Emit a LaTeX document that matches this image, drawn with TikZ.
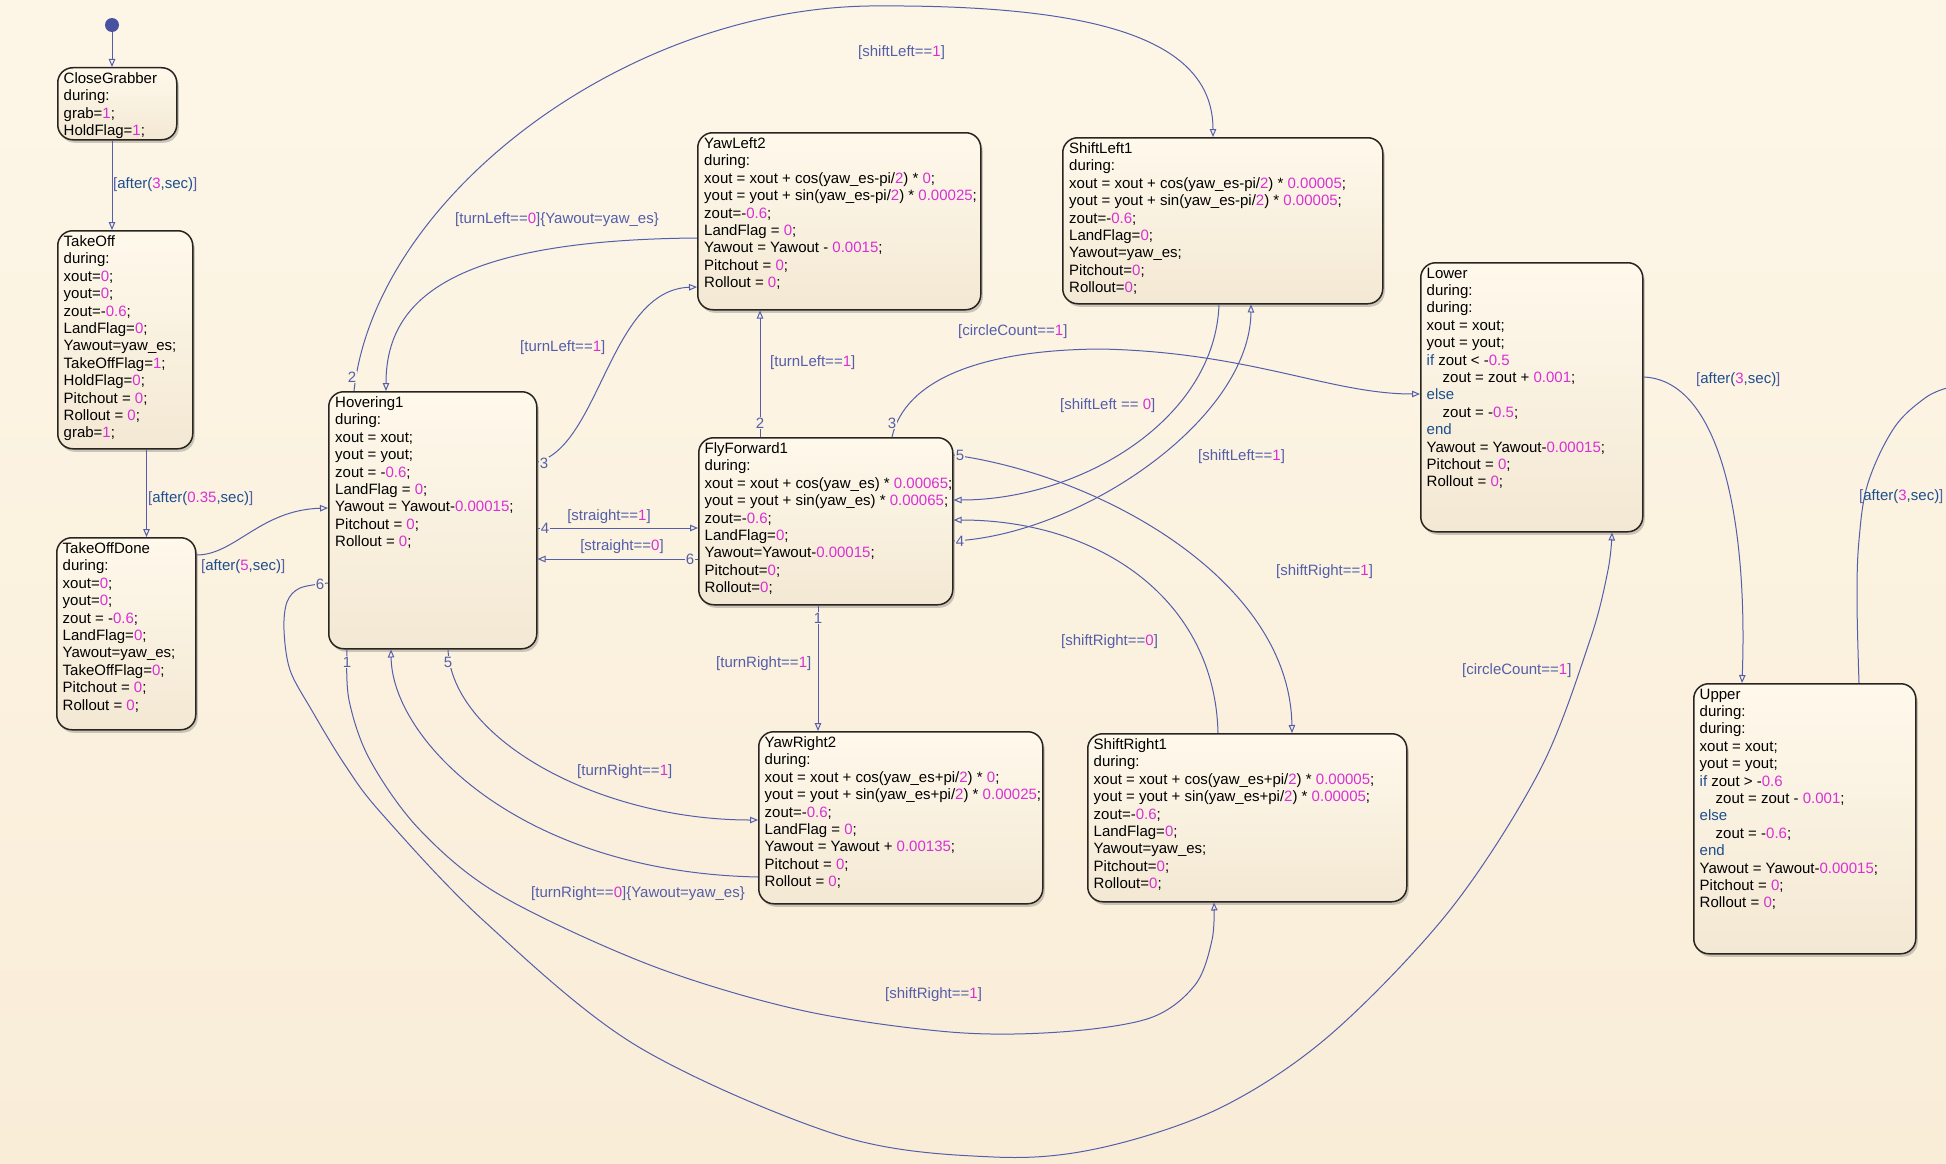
\documentclass[tikz,border=0pt]{standalone}
\usepackage{fontspec}
\setmainfont{Liberation Sans}
\usetikzlibrary{arrows.meta,shadows}
\definecolor{bgtop}{RGB}{253,246,231}
\definecolor{bgbot}{RGB}{249,237,216}
\definecolor{bgmid}{RGB}{251,242,224}
\definecolor{boxtop}{RGB}{255,249,236}
\definecolor{boxbot}{RGB}{243,232,211}
\definecolor{boxline}{RGB}{40,36,32}
\definecolor{conncol}{RGB}{84,94,170}
\definecolor{kwcol}{RGB}{30,78,140}
\definecolor{numcol}{RGB}{216,48,212}
\definecolor{dotcol}{RGB}{72,82,160}
\newcommand{\numc}[1]{\textcolor{numcol}{#1}}
\newcommand{\kwc}[1]{\textcolor{kwcol}{#1}}
\newcommand{\stfont}{\fontsize{15}{17.4}\selectfont}
\begin{document}
\begin{tikzpicture}[x=1pt,y=-1pt,
  statebox/.style={draw=boxline, line width=1.5pt, rounded corners=15pt,
    top color=boxtop, bottom color=boxbot,
    drop shadow={shadow xshift=2pt, shadow yshift=-3pt, opacity=0.28, fill=black!70},
    anchor=north west, inner sep=0pt},
  stext/.style={anchor=north west, inner sep=0pt, align=left, font=\stfont, text=black},
  conn/.style={draw=conncol, line width=1pt, -{Triangle[open, length=8pt, width=6.5pt]}},
  connline/.style={draw=conncol, line width=1pt},
  tlabel/.style={font=\stfont, text=conncol, inner sep=0pt},
  jnum/.style={font=\stfont, text=conncol, fill=bgmid, inner sep=0.8pt}]
\useasboundingbox (0,0) rectangle (1946,1164);
\fill[top color=bgtop, bottom color=bgbot] (0,0) rectangle (1946,1164);
\clip (0,0) rectangle (1946,1164);

% ---------- states ----------
\node[statebox, minimum width=119pt, minimum height=72pt] (cg) at (57,67) {};
\node[stext] (cgt) at (63.5,72.5) {CloseGrabber\\during:\\grab=\numc{1};\\HoldFlag=\numc{1};};

\node[statebox, minimum width=135pt, minimum height=218pt] (to) at (57,230) {};
\node[stext] (tot) at (63.5,235.5) {TakeOff\\during:\\xout=\numc{0};\\yout=\numc{0};\\zout=-\numc{0.6};\\LandFlag=\numc{0};\\Yawout=yaw\_es;\\TakeOffFlag=\numc{1};\\HoldFlag=\numc{0};\\Pitchout = \numc{0};\\Rollout = \numc{0};\\grab=\numc{1};};

\node[statebox, minimum width=139pt, minimum height=192pt] (tod) at (56,537) {};
\node[stext] (todt) at (62.5,542.5) {TakeOffDone\\during:\\xout=\numc{0};\\yout=\numc{0};\\zout = -\numc{0.6};\\LandFlag=\numc{0};\\Yawout=yaw\_es;\\TakeOffFlag=\numc{0};\\Pitchout = \numc{0};\\Rollout = \numc{0};};

\node[statebox, minimum width=208pt, minimum height=257pt] (hov) at (328,391) {};
\node[stext] (hovt) at (335,396.5) {Hovering1\\during:\\xout = xout;\\yout = yout;\\zout = -\numc{0.6};\\LandFlag = \numc{0};\\Yawout = Yawout-\numc{0.00015};\\Pitchout = \numc{0};\\Rollout = \numc{0};};

\node[statebox, minimum width=283pt, minimum height=177pt] (yl) at (697,132) {};
\node[stext] (ylt) at (704,137.5) {YawLeft2\\during:\\xout = xout + cos(yaw\_es-pi/\numc{2}) * \numc{0};\\yout = yout + sin(yaw\_es-pi/\numc{2}) * \numc{0.00025};\\zout=-\numc{0.6};\\LandFlag = \numc{0};\\Yawout = Yawout - \numc{0.0015};\\Pitchout = \numc{0};\\Rollout = \numc{0};};

\node[statebox, minimum width=320pt, minimum height=166pt] (sl) at (1062,137) {};
\node[stext] (slt) at (1069,142.5) {ShiftLeft1\\during:\\xout = xout + cos(yaw\_es-pi/\numc{2}) * \numc{0.00005};\\yout = yout + sin(yaw\_es-pi/\numc{2}) * \numc{0.00005};\\zout=-\numc{0.6};\\LandFlag=\numc{0};\\Yawout=yaw\_es;\\Pitchout=\numc{0};\\Rollout=\numc{0};};

\node[statebox, minimum width=222pt, minimum height=269pt] (low) at (1420,262) {};
\node[stext] (lowt) at (1426.5,267.5) {Lower\\during:\\during:\\xout = xout;\\yout = yout;\\\kwc{if} zout < -\numc{0.5}\\\hspace*{16pt}zout = zout + \numc{0.001};\\\kwc{else}\\\hspace*{16pt}zout = -\numc{0.5};\\\kwc{end}\\Yawout = Yawout-\numc{0.00015};\\Pitchout = \numc{0};\\Rollout = \numc{0};};

\node[statebox, minimum width=254pt, minimum height=167pt] (ff) at (698,437) {};
\node[stext] (fft) at (704.5,442.5) {FlyForward1\\during:\\xout = xout + cos(yaw\_es) * \numc{0.00065};\\yout = yout + sin(yaw\_es) * \numc{0.00065};\\zout=-\numc{0.6};\\LandFlag=\numc{0};\\Yawout=Yawout-\numc{0.00015};\\Pitchout=\numc{0};\\Rollout=\numc{0};};

\node[statebox, minimum width=284pt, minimum height=172pt] (yr) at (758,731) {};
\node[stext] (yrt) at (764.5,736.5) {YawRight2\\during:\\xout = xout + cos(yaw\_es+pi/\numc{2}) * \numc{0};\\yout = yout + sin(yaw\_es+pi/\numc{2}) * \numc{0.00025};\\zout=-\numc{0.6};\\LandFlag = \numc{0};\\Yawout = Yawout + \numc{0.00135};\\Pitchout = \numc{0};\\Rollout = \numc{0};};

\node[statebox, minimum width=319pt, minimum height=168pt] (sr) at (1087,733) {};
\node[stext] (srt) at (1093.5,738.5) {ShiftRight1\\during:\\xout = xout + cos(yaw\_es+pi/\numc{2}) * \numc{0.00005};\\yout = yout + sin(yaw\_es+pi/\numc{2}) * \numc{0.00005};\\zout=-\numc{0.6};\\LandFlag=\numc{0};\\Yawout=yaw\_es;\\Pitchout=\numc{0};\\Rollout=\numc{0};};

\node[statebox, minimum width=222pt, minimum height=270pt] (up) at (1693,683) {};
\node[stext] (upt) at (1699.5,688.5) {Upper\\during:\\during:\\xout = xout;\\yout = yout;\\\kwc{if} zout > -\numc{0.6}\\\hspace*{16pt}zout = zout - \numc{0.001};\\\kwc{else}\\\hspace*{16pt}zout = -\numc{0.6};\\\kwc{end}\\Yawout = Yawout-\numc{0.00015};\\Pitchout = \numc{0};\\Rollout = \numc{0};};

% initial dot
\node[circle, fill=dotcol, inner sep=0pt, minimum size=14pt] (init) at (112,25) {};

% ---------- connectors ----------
\draw[conn] (init) -- ([xshift=55pt]cg.north west);
\draw[conn] ([xshift=55pt]cg.south west) -- ([xshift=55pt]to.north west);
\draw[conn] ([xshift=89.5pt]to.south west) -- ([xshift=90.5pt]tod.north west);
\draw[conn] ([yshift=-18pt]tod.north east) .. controls (235,555) and (260,510) .. ([yshift=-117pt]hov.north west);
% Hovering1 (2) -> ShiftLeft1
\draw[conn] ([xshift=26pt]hov.north west) .. controls (375,200) and (620,10) .. (869,6)
   .. controls (1100,4) and (1213,40) .. ([xshift=151pt]sl.north west);
% YawLeft2 -> Hovering1
\draw[conn] ([yshift=-106pt]yl.north west) .. controls (450,240) and (386,300) .. ([xshift=58pt]hov.north west);
% Hovering1 (3) -> YawLeft2
\draw[conn] ([yshift=-71pt]hov.north east) .. controls (600,445) and (610,290) .. ([yshift=-155pt]yl.north west);
% straight
\draw[conn] ([yshift=-137pt]hov.north east) -- ([yshift=-91pt]ff.north west);
\draw[conn] ([yshift=-122pt]ff.north west) -- ([yshift=-168pt]hov.north east);
% FlyForward1 (2) -> YawLeft2
\draw[conn] ([xshift=62pt]ff.north west) -- ([xshift=63pt]yl.south west);
% FlyForward1 (3) -> Lower
\draw[conn] ([xshift=194pt]ff.north west) .. controls (905,380) and (980,350) .. (1100,349)
   .. controls (1250,352) and (1330,394) .. ([yshift=-132pt]low.north west);
% ShiftLeft1 -> FlyForward1
\draw[conn] ([xshift=157pt]sl.south west) .. controls (1215,420) and (1080,500) .. ([yshift=-63pt]ff.north east);
% FlyForward1 (4) -> ShiftLeft1
\draw[conn] ([yshift=-104pt]ff.north east) .. controls (1080,535) and (1250,420) .. ([xshift=189pt]sl.south west);
% FlyForward1 (5) -> ShiftRight1
\draw[conn] ([yshift=-18pt]ff.north east) .. controls (1100,475) and (1290,580) .. ([xshift=205pt]sr.north west);
% ShiftRight1 -> FlyForward1
\draw[conn] ([xshift=131pt]sr.north west) .. controls (1215,600) and (1100,520) .. ([yshift=-83pt]ff.north east);
% FlyForward1 (1) -> YawRight2
\draw[conn] ([xshift=120pt]ff.south west) -- ([xshift=60pt]yr.north west);
% Hovering1 (5) -> YawRight2
\draw[conn] ([xshift=120pt]hov.south west) .. controls (452,740) and (600,820) .. ([yshift=-89pt]yr.north west);
% YawRight2 -> Hovering1
\draw[conn] ([yshift=-146pt]yr.north west) .. controls (520,872) and (392,740) .. ([xshift=63pt]hov.south west);
% Hovering1 (1) -> ShiftRight1
\coordinate (h1s) at ([xshift=19pt]hov.south west);
\coordinate (sr1e) at ([xshift=127pt]sr.south west);
\draw[conn] plot[smooth, tension=0.55] coordinates {(h1s) (349,700) (370,760) (420,830) (500,895) (650,965) (800,1010) (950,1032) (1060,1032) (1150,1018) (1195,985) (1212,940) (sr1e)};
% Hovering1 (6) -> Lower
\coordinate (h6s) at ([yshift=-192pt]hov.north west);
\coordinate (low1e) at ([xshift=192pt]low.south west);
\draw[conn] plot[smooth, tension=0.55] coordinates {(h6s) (300,588) (287,602) (284,630) (290,670) (311,709) (345,765) (382,814) (484,921) (637,1046) (841,1136) (994,1157) (1100,1148) (1220,1108) (1330,1035) (1450,910) (1540,770) (1590,640) (1608,570) (low1e)};
% Lower -> Upper
\draw[conn] ([yshift=-115pt]low.north east) .. controls (1720,380) and (1748,520) .. ([xshift=49pt]up.north west);
% Upper -> (off picture)
\coordinate (u1s) at ([xshift=166pt]up.north west);
\coordinate (offR) at (1947,388);
\draw[connline] plot[smooth, tension=0.6] coordinates {(u1s) (1857,600) (1859,540) (1868,483) (1894,428) (1925,398) (offR)};

% ---------- labels ----------
\node[tlabel, anchor=west] (lab1) at (113,185) {[\kwc{after(}\numc{3}\kwc{,sec)}]};
\node[tlabel, anchor=west] (lab2) at (148,499) {[\kwc{after(}\numc{0.35}\kwc{,sec)}]};
\node[tlabel, anchor=west] (lab3) at (201,567) {[\kwc{after(}\numc{5}\kwc{,sec)}]};
\node[tlabel, anchor=west] (lab4) at (858,53) {[shiftLeft==\numc{1}]};
\node[tlabel, anchor=west] (lab5) at (455,220) {[turnLeft==\numc{0}]\{Yawout=yaw\_es\}};
\node[tlabel, anchor=west] (lab6) at (520,348) {[turnLeft==\numc{1}]};
\node[tlabel] (lab7) at (609,517) {[straight==\numc{1}]};
\node[tlabel] (lab8) at (622,547) {[straight==\numc{0}]};
\node[tlabel, anchor=west] (lab9) at (770,363) {[turnLeft==\numc{1}]};
\node[tlabel, anchor=west] (lab10) at (958,332) {[circleCount==\numc{1}]};
\node[tlabel, anchor=west] (lab11) at (1060,406) {[shiftLeft == \numc{0}]};
\node[tlabel, anchor=west] (lab12) at (1198,457) {[shiftLeft==\numc{1}]};
\node[tlabel, anchor=west] (lab13) at (1276,572) {[shiftRight==\numc{1}]};
\node[tlabel, anchor=west] (lab14) at (1061,642) {[shiftRight==\numc{0}]};
\node[tlabel, anchor=west] (lab15) at (716,664) {[turnRight==\numc{1}]};
\node[tlabel, anchor=west] (lab16) at (577,772) {[turnRight==\numc{1}]};
\node[tlabel, anchor=west] (lab17) at (531,894) {[turnRight==\numc{0}]\{Yawout=yaw\_es\}};
\node[tlabel, anchor=west] (lab18) at (885,995) {[shiftRight==\numc{1}]};
\node[tlabel, anchor=west] (lab19) at (1462,671) {[circleCount==\numc{1}]};
\node[tlabel, anchor=west] (lab20) at (1696,380) {[\kwc{after(}\numc{3}\kwc{,sec)}]};
\node[tlabel, anchor=west] (lab21) at (1859,497) {[\kwc{after(}\numc{3}\kwc{,sec)}]};

% ---------- junction numbers ----------
\node[jnum] (hn2) at (352,377) {2};
\node[jnum] (hn3) at (544,463) {3};
\node[jnum] (hn4) at (545,528) {4};
\node[jnum] (hn6) at (320,584) {6};
\node[jnum] (hn1) at (347,662) {1};
\node[jnum] (hn5) at (448,662) {5};
\node[jnum] (fn2) at (760,423) {2};
\node[jnum] (fn3) at (892,423) {3};
\node[jnum] (fn5) at (960,455) {5};
\node[jnum] (fn4) at (960,541) {4};
\node[jnum] (fn6) at (690,559) {6};
\node[jnum] (fn1) at (818,618) {1};
\end{tikzpicture}
\end{document}
